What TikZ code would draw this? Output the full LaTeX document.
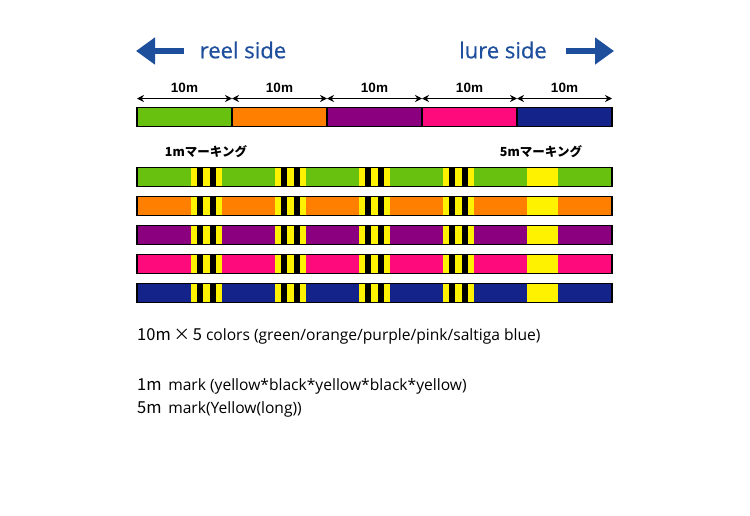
\documentclass[tikz,border=0pt]{standalone}
\usepackage{fontspec}
\setmainfont{Open Sans}
\newfontfamily\sidefont{Open Sans}[FakeBold=0.6]
\newfontfamily\jpfont{Noto Sans CJK JP}
\newfontfamily\arialfont{Liberation Sans}
\usetikzlibrary{arrows.meta,positioning,calc}
\definecolor{linegreen}{HTML}{68C10E}
\definecolor{lineorange}{HTML}{FF8000}
\definecolor{linepurple}{HTML}{8B007F}
\definecolor{linepink}{HTML}{FF0A7D}
\definecolor{lineblue}{HTML}{14238A}
\definecolor{sideblue}{HTML}{1E4F9C}
\newcommand\meter[1]{{\jpfont\fontsize{16.5}{18}\selectfont #1}}

\begin{document}
\begin{tikzpicture}[
    x=1pt, y=-1pt,
    seg/.style={draw=black, line width=1.2pt, minimum width=95pt, minimum height=19pt, inner sep=0pt, outer sep=0pt},
    braid/.style={draw=black, line width=1.2pt, minimum width=475pt, minimum height=19pt, inner sep=0pt, outer sep=0pt},
    dim/.style={{Stealth[length=7pt,width=7pt]}-{Stealth[length=7pt,width=7pt]}, line width=1.1pt},
    dimlab/.style={font=\arialfont\bfseries\fontsize{13.5}{15}\selectfont, inner sep=2pt},
    sidearr/.style={-{Triangle[length=19pt,width=26pt]}, line width=6.5pt, draw=sideblue},
    sidelab/.style={font=\sidefont\fontsize{22}{26}\selectfont, text=sideblue, inner sep=0pt},
    marklab/.style={font=\jpfont\bfseries\fontsize{12.5}{14}\selectfont, inner sep=0pt},
    note/.style={font=\fontsize{15.6}{18}\selectfont, anchor=base west, inner sep=0pt}
  ]
    \useasboundingbox (0,0) rectangle (750,515);
    \node[sidelab] (reel) at (243,50) {reel side};
    \node[sidelab] (lure) at (503,50) {lure side};
    \coordinate (reeltail) at (184,51);
    \coordinate (reeltip) at (136,51);
    \coordinate (luretail) at (566,51);
    \coordinate (luretip) at (614,51);
    \draw[sidearr] (reeltail) -- (reeltip);
    \draw[sidearr] (luretail) -- (luretip);
    \node[seg, fill=linegreen] (s1) at (184.5,117) {};
    \foreach \c/\i/\j in {lineorange/2/1, linepurple/3/2, linepink/4/3, lineblue/5/4}
      \node[seg, fill=\c, right=0pt of s\j] (s\i) {};
    \foreach \i in {1,...,5} {
      \coordinate (dl\i) at ($(s\i.north west)+(0,-9)$);
      \coordinate (dr\i) at ($(s\i.north east)+(0,-9)$);
      \draw[dim] (dl\i) -- node[above=3pt, dimlab] (dt\i) {10m} (dr\i);
    }
    \node[braid, fill=linegreen] (b1) at (374.5,177) {};
    \foreach \c/\i/\j in {lineorange/2/1, linepurple/3/2, linepink/4/3, lineblue/5/4}
      \node[braid, fill=\c, below=10pt of b\j] (b\i) {};
    \foreach \i in {1,...,5} {
      \foreach \m in {54,138,222,306} {
        \foreach \k/\col in {0/yellow,1/black,2/yellow,3/black,4/yellow}
          \fill[\col] ($(b\i.north west)+(\m+6.2*\k,0)$) rectangle ++(6.2,19);
      }
      \fill[yellow] ($(b\i.north west)+(390,0)$) rectangle ++(31,19);
      \draw[line width=1.2pt] (b\i.north west) rectangle (b\i.south east);
    }
    \node[marklab] (onelab) at (206,152) {1mマーキング};
    \node[marklab] (fivelab) at (541,152) {5mマーキング};
    \node[note] (colors) at (137,340) {\meter{10m\,×\,5} colors (green/orange/purple/pink/saltiga blue)};
    \node[note] (onemark) at (137,390) {\meter{1m} \,mark (yellow*black*yellow*black*yellow)};
    \node[note] (fivemark) at (137,413) {\meter{5m} \,mark(Yellow(long))};
  \end{tikzpicture}
\end{document}
